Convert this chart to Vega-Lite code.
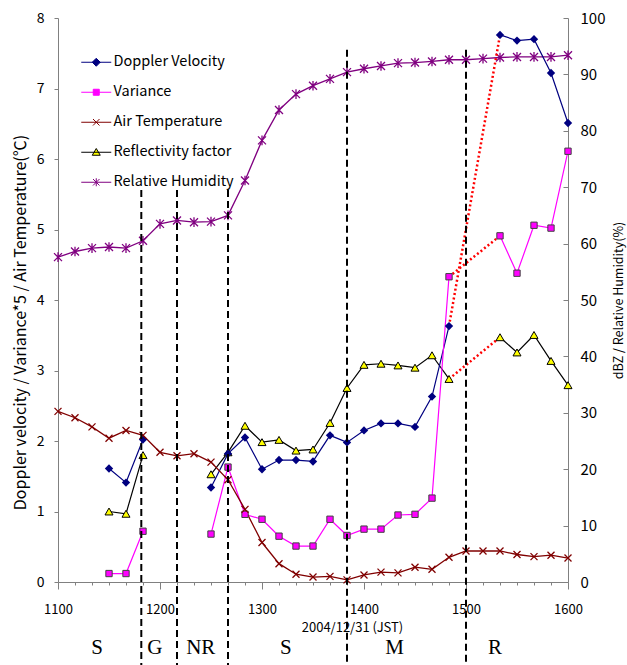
{
  "$schema": "https://vega.github.io/schema/vega-lite/v6.json",
  "width": 510,
  "height": 564,
  "autosize": "none",
  "padding": {"left": 58, "top": 18, "right": 59, "bottom": 83},
  "background": "white",
  "config": {
    "view": {"stroke": null},
    "axis": {"grid": false},
    "font": "Noto Sans CJK JP"
  },
  "datasets": {
    "temp": [
      {"t": 660, "v": 2.42}, {"t": 670, "v": 2.33}, {"t": 680, "v": 2.2}, {"t": 690, "v": 2.04},
      {"t": 700, "v": 2.15}, {"t": 710, "v": 2.08}, {"t": 720, "v": 1.84}, {"t": 730, "v": 1.79},
      {"t": 740, "v": 1.82}, {"t": 750, "v": 1.7}, {"t": 760, "v": 1.45}, {"t": 770, "v": 1.03},
      {"t": 780, "v": 0.56}, {"t": 790, "v": 0.26}, {"t": 800, "v": 0.11}, {"t": 810, "v": 0.07},
      {"t": 820, "v": 0.08}, {"t": 830, "v": 0.03}, {"t": 840, "v": 0.1}, {"t": 850, "v": 0.14},
      {"t": 860, "v": 0.13}, {"t": 870, "v": 0.21}, {"t": 880, "v": 0.18}, {"t": 890, "v": 0.35},
      {"t": 900, "v": 0.44}, {"t": 910, "v": 0.44}, {"t": 920, "v": 0.44}, {"t": 930, "v": 0.39},
      {"t": 940, "v": 0.36}, {"t": 950, "v": 0.38}, {"t": 960, "v": 0.34}
    ],
    "rh": [
      {"t": 660, "v": 57.6}, {"t": 670, "v": 58.6}, {"t": 680, "v": 59.2}, {"t": 690, "v": 59.4},
      {"t": 700, "v": 59.2}, {"t": 710, "v": 60.5}, {"t": 720, "v": 63.5}, {"t": 730, "v": 64.1},
      {"t": 740, "v": 63.8}, {"t": 750, "v": 63.9}, {"t": 760, "v": 65.0}, {"t": 770, "v": 71.2},
      {"t": 780, "v": 78.3}, {"t": 790, "v": 83.7}, {"t": 800, "v": 86.5}, {"t": 810, "v": 88.0},
      {"t": 820, "v": 89.2}, {"t": 830, "v": 90.4}, {"t": 840, "v": 91.0}, {"t": 850, "v": 91.5},
      {"t": 860, "v": 92.0}, {"t": 870, "v": 92.1}, {"t": 880, "v": 92.3}, {"t": 890, "v": 92.6},
      {"t": 900, "v": 92.6}, {"t": 910, "v": 92.8}, {"t": 920, "v": 93.0}, {"t": 930, "v": 93.1},
      {"t": 940, "v": 93.1}, {"t": 950, "v": 93.1}, {"t": 960, "v": 93.4}
    ],
    "dv": [
      {"t": 690, "v": 1.61}, {"t": 700, "v": 1.41}, {"t": 710, "v": 2.02}, {"t": 730, "v": null},
      {"t": 750, "v": 1.34}, {"t": 760, "v": 1.82}, {"t": 770, "v": 2.05}, {"t": 780, "v": 1.6},
      {"t": 790, "v": 1.73}, {"t": 800, "v": 1.73}, {"t": 810, "v": 1.71}, {"t": 820, "v": 2.08},
      {"t": 830, "v": 1.98}, {"t": 840, "v": 2.15}, {"t": 850, "v": 2.25}, {"t": 860, "v": 2.25},
      {"t": 870, "v": 2.2}, {"t": 880, "v": 2.63}, {"t": 890, "v": 3.63}, {"t": 900, "v": null},
      {"t": 920, "v": 7.76}, {"t": 930, "v": 7.68}, {"t": 940, "v": 7.7}, {"t": 950, "v": 7.22},
      {"t": 960, "v": 6.51}
    ],
    "var": [
      {"t": 690, "v": 0.12}, {"t": 700, "v": 0.12}, {"t": 710, "v": 0.72}, {"t": 730, "v": null},
      {"t": 750, "v": 0.68}, {"t": 760, "v": 1.63}, {"t": 770, "v": 0.96}, {"t": 780, "v": 0.89},
      {"t": 790, "v": 0.65}, {"t": 800, "v": 0.51}, {"t": 810, "v": 0.51}, {"t": 820, "v": 0.89},
      {"t": 830, "v": 0.66}, {"t": 840, "v": 0.75}, {"t": 850, "v": 0.75}, {"t": 860, "v": 0.95},
      {"t": 870, "v": 0.96}, {"t": 880, "v": 1.19}, {"t": 890, "v": 4.33}, {"t": 900, "v": null},
      {"t": 920, "v": 4.91}, {"t": 930, "v": 4.38}, {"t": 940, "v": 5.06}, {"t": 950, "v": 5.02},
      {"t": 960, "v": 6.11}
    ],
    "refl": [
      {"t": 690, "v": 12.5}, {"t": 700, "v": 12.1}, {"t": 710, "v": 22.5}, {"t": 730, "v": null},
      {"t": 750, "v": 19.1}, {"t": 760, "v": 23.0}, {"t": 770, "v": 27.7}, {"t": 780, "v": 24.8},
      {"t": 790, "v": 25.2}, {"t": 800, "v": 23.3}, {"t": 810, "v": 23.5}, {"t": 820, "v": 28.2},
      {"t": 830, "v": 34.4}, {"t": 840, "v": 38.5}, {"t": 850, "v": 38.7}, {"t": 860, "v": 38.4},
      {"t": 870, "v": 38.0}, {"t": 880, "v": 40.2}, {"t": 890, "v": 36.0}, {"t": 900, "v": null},
      {"t": 920, "v": 43.4}, {"t": 930, "v": 40.7}, {"t": 940, "v": 43.8}, {"t": 950, "v": 39.2},
      {"t": 960, "v": 34.9}
    ],
    "bnd": [{"t": 709}, {"t": 730}, {"t": 760}, {"t": 830}, {"t": 900}],
    "seg": [
      {"label": "S", "t": 683}, {"label": "G", "t": 717}, {"label": "NR", "t": 744},
      {"label": "S", "t": 794}, {"label": "M", "t": 858}, {"label": "R", "t": 917}
    ],
    "series": [
      {"s": "Doppler Velocity"}, {"s": "Variance"}, {"s": "Air Temperature"},
      {"s": "Reflectivity factor"}, {"s": "Relative Humidity"}
    ]
  },
  "encoding": {
    "x": {
      "field": "t",
      "type": "quantitative",
      "scale": {"domain": [660, 960], "nice": false, "zero": false},
      "axis": {
        "values": [660, 670, 680, 690, 700, 710, 720, 730, 740, 750, 760, 770, 780, 790, 800, 810, 820, 830, 840, 850, 860, 870, 880, 890, 900, 910, 920, 930, 940, 950, 960],
        "labelExpr": "datum.value % 60 === 0 ? format(datum.value / 60 * 100, 'd') : ''",
        "tickSize": {"condition": {"test": "datum.value % 60 === 0", "value": 7}, "value": 3},
        "labelPadding": 14,
        "labelFontSize": 13,
        "labelFont": "Noto Sans CJK JP",
        "labelColor": "#000000",
        "labelFlush": false,
        "labelOverlap": false,
        "domainColor": "#808080",
        "tickColor": "#808080",
        "grid": false,
        "title": "2004/12/31 (JST)",
        "titleFont": "Noto Sans CJK JP",
        "titleFontSize": 13,
        "titleFontWeight": "normal",
        "titleColor": "#000000",
        "titleX": 294,
        "titleY": 45,
        "titleBaseline": "middle"
      }
    }
  },
  "layer": [
    {
      "encoding": {
        "y": {
          "field": "v",
          "type": "quantitative",
          "scale": {"domain": [0, 100], "nice": false},
          "axis": {
            "orient": "right",
            "values": [0, 10, 20, 30, 40, 50, 60, 70, 80, 90, 100],
            "tickSize": -5,
            "labelPadding": 17,
            "labelFontSize": 15,
            "labelFont": "Noto Sans CJK JP",
            "labelColor": "#000000",
            "domainColor": "#808080",
            "tickColor": "#808080",
            "grid": false,
            "title": "dBZ / Relative Humidity(%)",
            "titleFont": "Noto Sans CJK JP",
            "titleFontSize": 12.5,
            "titleFontWeight": "normal",
            "titleColor": "#000000",
            "titleAngle": 270,
            "titleBaseline": "top",
            "titlePadding": 8
          }
        }
      },
      "layer": [
        {"data": {"name": "refl"}, "mark": {"type": "line", "color": "#000000", "strokeWidth": 1.2, "invalid": "break-paths-show-domains"}, "encoding": {}},
        {"data": {"name": "refl"}, "transform": [{"filter": {"field": "t", "oneOf": [890, 920]}}], "mark": {"type": "line", "color": "#FF0000", "strokeWidth": 2.5, "strokeDash": [2, 2.5]}, "encoding": {}},
        {"data": {"name": "rh"}, "mark": {"type": "line", "color": "#800080", "strokeWidth": 1.3}, "encoding": {}},
        {"data": {"name": "refl"}, "mark": {"type": "point", "shape": "triangle-up", "size": 64, "filled": true, "fill": "#FFFF00", "stroke": "#000000", "strokeWidth": 1, "opacity": 1}},
        {"data": {"name": "rh"}, "mark": {"type": "point", "shape": "M-1,-1L1,1M-1,1L1,-1M0,-1.2V1.2", "size": 64, "filled": false, "color": "#800080", "strokeWidth": 1.3, "opacity": 1}}
      ]
    },
    {
      "encoding": {
        "y": {
          "field": "v",
          "type": "quantitative",
          "scale": {"domain": [0, 8], "nice": false},
          "axis": {
            "orient": "left",
            "values": [0, 1, 2, 3, 4, 5, 6, 7, 8],
            "tickSize": 4,
            "labelPadding": 10,
            "labelFontSize": 14,
            "labelFont": "Noto Sans CJK JP",
            "labelColor": "#000000",
            "domainColor": "#808080",
            "tickColor": "#808080",
            "grid": false,
            "title": "Doppler velocity / Variance*5 / Air Temperature(℃)",
            "titleFont": "Noto Sans CJK JP",
            "titleFontSize": 16,
            "titleFontWeight": "normal",
            "titleColor": "#000000",
            "titlePadding": 8,
            "titleY": 304
          }
        }
      },
      "layer": [
        {"data": {"name": "dv"}, "mark": {"type": "line", "color": "#000080", "strokeWidth": 1.2, "invalid": "break-paths-show-domains"}, "encoding": {}},
        {"data": {"name": "var"}, "mark": {"type": "line", "color": "#FF00FF", "strokeWidth": 1.2, "invalid": "break-paths-show-domains"}, "encoding": {}},
        {"data": {"name": "temp"}, "mark": {"type": "line", "color": "#800000", "strokeWidth": 1.3}, "encoding": {}},
        {"data": {"name": "dv"}, "transform": [{"filter": {"field": "t", "oneOf": [890, 920]}}], "mark": {"type": "line", "color": "#FF0000", "strokeWidth": 2.5, "strokeDash": [2, 2.5]}, "encoding": {}},
        {"data": {"name": "var"}, "transform": [{"filter": {"field": "t", "oneOf": [890, 920]}}], "mark": {"type": "line", "color": "#FF0000", "strokeWidth": 2.5, "strokeDash": [2, 2.5]}, "encoding": {}},
        {"data": {"name": "dv"}, "mark": {"type": "point", "shape": "diamond", "size": 70, "filled": true, "color": "#000080", "opacity": 1}},
        {"data": {"name": "var"}, "mark": {"type": "point", "shape": "square", "size": 40, "filled": true, "fill": "#FF00FF", "stroke": "#404040", "strokeWidth": 1, "opacity": 1}},
        {"data": {"name": "temp"}, "mark": {"type": "point", "shape": "M-1,-1L1,1M-1,1L1,-1", "size": 49, "filled": false, "color": "#800000", "strokeWidth": 1.3, "opacity": 1}},
        {
          "data": {"name": "series"},
          "mark": {"type": "point", "filled": true, "opacity": 1},
          "encoding": {
            "stroke": {
              "field": "s", "type": "nominal",
              "scale": {"domain": ["Doppler Velocity", "Variance", "Air Temperature", "Reflectivity factor", "Relative Humidity"], "range": ["#000080", "#FF00FF", "#800000", "#000000", "#800080"]},
              "legend": {"orient": "none", "legendX": 31, "legendY": 37, "title": null, "labelFont": "Noto Sans CJK JP", "labelFontSize": 14.5, "labelColor": "#000000", "symbolSize": 100, "symbolStrokeWidth": 1, "rowPadding": 15, "labelOffset": 10, "padding": 0}
            },
            "fill": {
              "field": "s", "type": "nominal",
              "scale": {"domain": ["Doppler Velocity", "Variance", "Air Temperature", "Reflectivity factor", "Relative Humidity"], "range": ["#000080", "#FF00FF", "transparent", "#FFFF00", "transparent"]},
              "legend": {"orient": "none", "legendX": 31, "legendY": 37, "title": null, "labelFont": "Noto Sans CJK JP", "labelFontSize": 14.5, "labelColor": "#000000", "symbolSize": 100, "symbolStrokeWidth": 1, "rowPadding": 15, "labelOffset": 10, "padding": 0}
            },
            "shape": {
              "field": "s", "type": "nominal",
              "scale": {"domain": ["Doppler Velocity", "Variance", "Air Temperature", "Reflectivity factor", "Relative Humidity"], "range": ["M-3,0H3M-0.8,0L0,-0.8L0.8,0L0,0.8Z", "M-3,0H3M-0.6,-0.6H0.6V0.6H-0.6Z", "M-3,0H3M-0.65,-0.65L0.65,0.65M-0.65,0.65L0.65,-0.65", "M-3,0H3M0,-0.75L0.8,0.6H-0.8Z", "M-3,0H3M-0.65,-0.65L0.65,0.65M-0.65,0.65L0.65,-0.65M0,-0.8V0.8"]},
              "legend": {"orient": "none", "legendX": 31, "legendY": 37, "title": null, "labelFont": "Noto Sans CJK JP", "labelFontSize": 14.5, "labelColor": "#000000", "symbolSize": 100, "symbolStrokeWidth": 1, "rowPadding": 15, "labelOffset": 10, "padding": 0}
            }
          }
        }
      ]
    },
    {
      "data": {"name": "bnd"},
      "transform": [{"filter": "datum.t < 800"}],
      "mark": {"type": "rule", "color": "#000000", "strokeWidth": 2, "strokeDash": [7, 4]},
      "encoding": {
        "y": {"datum": 5.56, "type": "quantitative", "scale": {"domain": [0, 8], "nice": false}, "axis": null},
        "y2": {"datum": -1.18}
      }
    },
    {
      "data": {"name": "bnd"},
      "transform": [{"filter": "datum.t > 800"}],
      "mark": {"type": "rule", "color": "#000000", "strokeWidth": 2, "strokeDash": [7, 4]},
      "encoding": {
        "y": {"datum": 7.55, "type": "quantitative", "scale": {"domain": [0, 8], "nice": false}, "axis": null},
        "y2": {"datum": -1.18}
      }
    },
    {
      "data": {"name": "seg"},
      "mark": {"type": "text", "font": "Liberation Serif", "fontSize": 21, "color": "#000000", "baseline": "middle", "align": "center"},
      "encoding": {
        "text": {"field": "label"},
        "y": {"datum": -0.93, "type": "quantitative", "scale": {"domain": [0, 8], "nice": false}, "axis": null}
      }
    }
  ],
  "resolve": {"scale": {"y": "independent"}}
}
